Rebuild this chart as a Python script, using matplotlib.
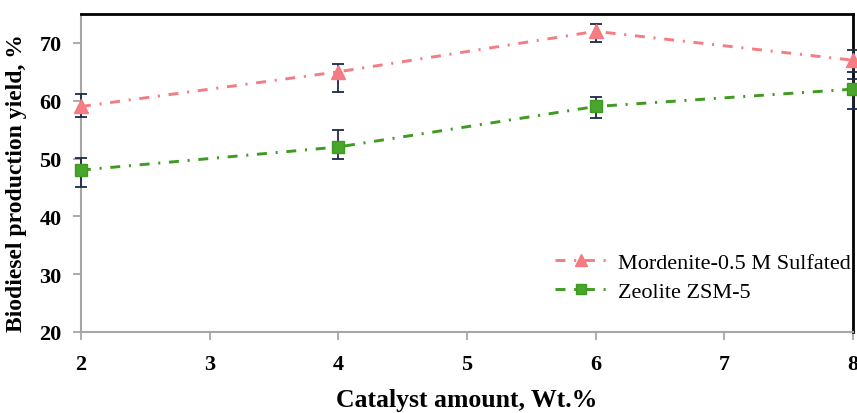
import matplotlib
matplotlib.use('Agg')
import matplotlib.pyplot as plt
from matplotlib.lines import Line2D

# catalyst amount, wt.%
catalyst = [2, 4, 6, 8]

# yields, %
mordenite = [59, 65, 72, 67]
mordenite_err_lo = [1.9, 3.5, 1.8, 2.0]
mordenite_err_hi = [2.1, 1.4, 1.3, 1.7]

zsm5 = [48, 52, 59, 62]
zsm5_err_lo = [2.9, 2.1, 2.0, 3.4]
zsm5_err_hi = [2.1, 3.0, 1.7, 1.7]

labels = ['Mordenite-0.5 M Sulfated', 'Zeolite ZSM-5']

plt.rcParams['font.family'] = ['Liberation Serif', 'DejaVu Serif']

fig = plt.figure(figsize=(8.57, 4.14), dpi=100)
ax = fig.add_axes([0.0945, 0.1957, 0.9008, 0.7681])

red = '#f47c82'
green = '#3f9a22'
errc = '#1c2a48'
dashdot = (0, (3.4, 3, 0.7, 3))

ax.errorbar(catalyst, mordenite, yerr=[mordenite_err_lo, mordenite_err_hi],
            color=red, linestyle=dashdot, linewidth=2.1,
            marker='^', markersize=10, markerfacecolor=red, markeredgecolor=red,
            ecolor=errc, elinewidth=1.3, capsize=4.5, capthick=1.3,
            zorder=3, clip_on=False)
ax.errorbar(catalyst, zsm5, yerr=[zsm5_err_lo, zsm5_err_hi],
            color=green, linestyle=dashdot, linewidth=2.1,
            marker='s', markersize=8.5, markerfacecolor='#4aa52c', markeredgecolor=green,
            ecolor=errc, elinewidth=1.3, capsize=4.5, capthick=1.3,
            zorder=3, clip_on=False)

ax.set_xlim(2, 8)
ax.set_ylim(20, 75)
ax.set_xticks(range(2, 9))
ax.set_yticks(range(20, 71, 10))

for s in ['left', 'bottom']:
    ax.spines[s].set_color('#a6a6a6')
    ax.spines[s].set_linewidth(1.5)
for s in ['top', 'right']:
    ax.spines[s].set_color('black')
    ax.spines[s].set_linewidth(2.0)

ax.tick_params(axis='both', colors='#a6a6a6', width=1.3, length=6,
               labelcolor='black', labelsize=16)
ax.tick_params(axis='x', pad=10)
ax.tick_params(axis='y', pad=8)
for lbl in ax.get_xticklabels() + ax.get_yticklabels():
    lbl.set_fontweight('bold')

ax.set_xlabel('Catalyst amount, Wt.%', fontsize=18.5, fontweight='bold', labelpad=10)
ax.set_ylabel('Biodiesel production yield, %', fontsize=17, fontweight='bold')
ax.yaxis.set_label_coords(-0.07, 0.47)

handles = [
    Line2D([], [], color=red, linestyle=dashdot, linewidth=2.1, marker='^',
           markersize=8, markerfacecolor=red, markeredgecolor=red),
    Line2D([], [], color=green, linestyle=dashdot, linewidth=2.1, marker='s',
           markersize=7, markerfacecolor='#4aa52c', markeredgecolor=green),
]
leg = ax.legend(handles, labels, loc='lower right', bbox_to_anchor=(1.011, 0.06),
                frameon=False, fontsize=16, handlelength=2.3, handletextpad=0.5,
                labelspacing=0.36, borderpad=0.0)

fig.savefig('out.png', dpi=100)
